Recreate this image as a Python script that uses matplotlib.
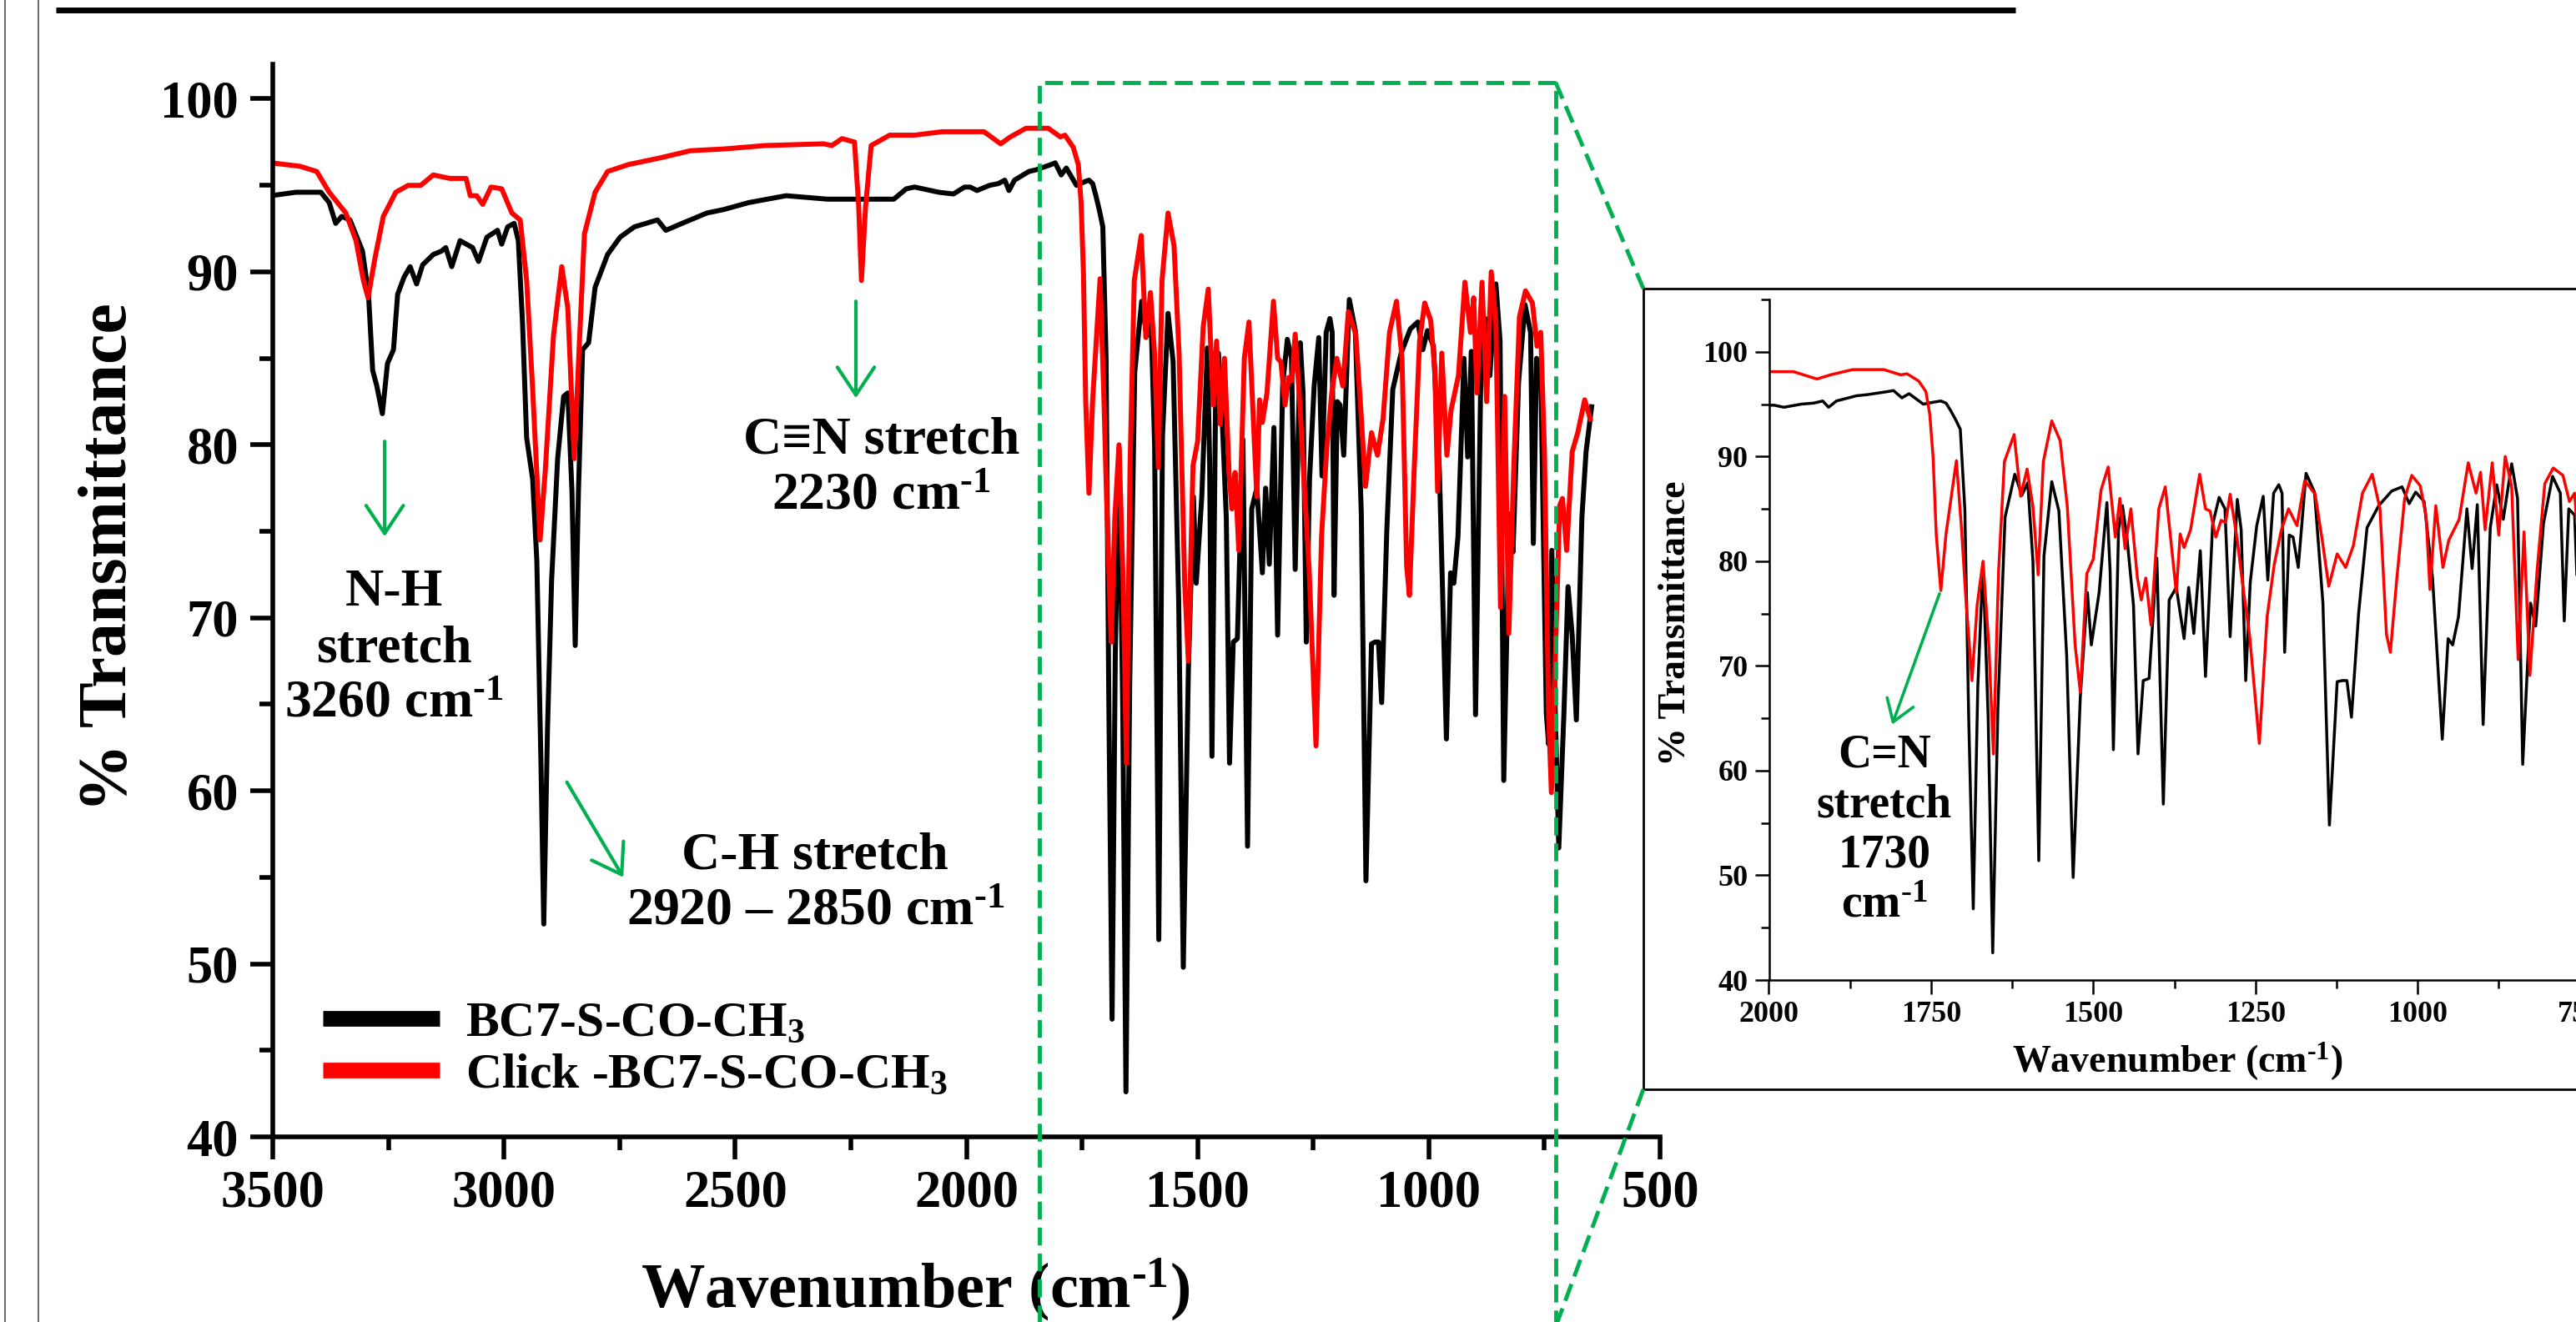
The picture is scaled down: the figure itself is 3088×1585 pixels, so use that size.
import matplotlib
matplotlib.use('Agg')
from matplotlib import pyplot as plt
from matplotlib.ticker import MultipleLocator
from matplotlib.lines import Line2D
from matplotlib.patches import Rectangle

# spectra (wavenumber in cm-1, % transmittance)
bc7_wn = [3504, 3450, 3396, 3378, 3364, 3351, 3333, 3306, 3293, 3284,
          3275, 3263, 3252, 3239, 3230, 3216, 3203, 3189, 3176, 3153,
          3135, 3126, 3113, 3095, 3068, 3055, 3037, 3014, 3005, 2992,
          2978, 2969, 2960, 2951, 2938, 2929, 2920, 2914, 2906, 2897,
          2884, 2871, 2862, 2853, 2846, 2839, 2830, 2817, 2803, 2776,
          2749, 2718, 2668, 2650, 2615, 2561, 2525, 2471, 2390, 2300,
          2237, 2157, 2130, 2112, 2060, 2028, 2004, 1992, 1977, 1950,
          1931, 1917, 1908, 1896, 1865, 1849, 1817, 1808, 1795, 1784,
          1762, 1745, 1735, 1727, 1720, 1712, 1705, 1698, 1692, 1685,
          1678, 1670, 1662, 1655, 1647, 1636, 1621, 1610, 1601, 1593,
          1584, 1576, 1564, 1553, 1541, 1531, 1520, 1509, 1503, 1491,
          1479, 1474, 1469, 1461, 1455, 1448, 1438, 1431, 1423, 1414,
          1402, 1392, 1383, 1372, 1360, 1353, 1345, 1335, 1327, 1316,
          1306, 1297, 1289, 1278, 1272, 1265, 1258, 1248, 1238, 1231,
          1222, 1214, 1209, 1205, 1198, 1192, 1184, 1172, 1159, 1146,
          1136, 1124, 1116, 1109, 1102, 1091, 1078, 1060, 1040, 1024,
          1013, 1003, 990, 977, 962, 953, 946, 937, 924, 916,
          908, 899, 888, 878, 868, 855, 846, 838, 826, 818,
          806, 792, 780, 774, 767, 758, 746, 741, 734, 727,
          719, 708, 699, 690, 681, 669, 660, 648]
bc7_t = [94.4, 94.6, 94.6, 94.0, 92.8, 93.2, 93.0, 91.2, 88.7, 84.3,
         83.4, 81.8, 84.7, 85.5, 88.7, 89.7, 90.3, 89.3, 90.4, 91.0,
         91.2, 91.4, 90.3, 91.8, 91.4, 90.6, 92.0, 92.4, 91.6, 92.6,
         92.8, 91.8, 87.1, 80.4, 78.0, 73.3, 61.5, 52.3, 63.5, 72.2,
         79.2, 82.8, 83.0, 77.3, 68.4, 77.3, 85.5, 85.9, 89.1, 91.0,
         92.0, 92.6, 93.0, 92.4, 92.8, 93.4, 93.6, 94.0, 94.4, 94.2,
         94.2, 94.2, 94.8, 94.9, 94.6, 94.5, 94.9, 94.9, 94.7, 95.0,
         95.1, 95.3, 94.7, 95.3, 95.8, 95.9, 96.2, 96.3, 95.6, 96.0,
         95.0, 95.2, 95.3, 95.1, 94.4, 93.5, 92.6, 85.0, 65.0, 46.8,
         68.0, 79.8, 65.0, 42.6, 66.0, 84.2, 88.3, 86.3, 87.5, 80.0,
         51.4, 80.5, 87.6, 84.8, 71.0, 49.8, 67.0, 77.0, 72.0, 77.0,
         85.6, 79.0, 62.0, 83.0, 85.3, 82.2, 75.8, 61.6, 68.6, 68.8,
         80.3, 56.8, 76.3, 77.5, 72.6, 77.5, 73.1, 81.0, 69.0, 83.5,
         86.1, 85.0, 72.8, 85.9, 83.0, 68.6, 78.0, 83.4, 86.2, 78.2,
         86.5, 87.3, 86.5, 71.3, 82.5, 82.3, 79.4, 88.4, 86.6, 76.0,
         54.8, 68.5, 68.6, 68.6, 65.1, 75.0, 83.2, 85.3, 86.7, 87.1,
         85.5, 86.6, 85.7, 78.4, 63.0, 72.6, 72.0, 74.7, 85.0, 79.3,
         85.4, 64.4, 83.2, 87.3, 84.0, 89.3, 86.0, 60.6, 76.0, 73.8,
         83.6, 88.1, 86.5, 74.3, 85.0, 84.4, 64.5, 62.7, 73.9, 65.0,
         56.7, 64.4, 71.8, 69.0, 64.1, 75.8, 79.6, 82.2]

click_wn = [3504, 3441, 3405, 3378, 3342, 3320, 3304, 3294, 3279, 3261,
            3234, 3207, 3180, 3153, 3117, 3082, 3073, 3059, 3046, 3028,
            3005, 2983, 2965, 2951, 2938, 2922, 2911, 2893, 2875, 2862,
            2848, 2837, 2826, 2803, 2776, 2731, 2660, 2597, 2525, 2435,
            2309, 2291, 2269, 2242, 2233, 2227, 2218, 2206, 2166, 2112,
            2052, 1992, 1962, 1926, 1905, 1871, 1823, 1797, 1787, 1769,
            1758, 1752, 1747, 1742, 1735, 1727, 1711, 1703, 1697, 1687,
            1679, 1670, 1661, 1654, 1646, 1637, 1622, 1612, 1602, 1593,
            1585, 1577, 1564, 1551, 1540, 1528, 1520, 1510, 1500, 1488,
            1477, 1466, 1459, 1451, 1442, 1432, 1426, 1419, 1411, 1399,
            1389, 1372, 1366, 1360, 1350, 1336, 1327, 1320, 1311, 1303,
            1296, 1289, 1278, 1270, 1259, 1244, 1232, 1221, 1210, 1199,
            1186, 1174, 1158, 1147, 1137, 1124, 1111, 1099, 1085, 1070,
            1058, 1048, 1042, 1032, 1020, 1009, 996, 987, 981, 972,
            961, 952, 936, 922, 910, 903, 896, 885, 875, 865,
            855, 845, 836, 827, 816, 804, 791, 776, 766, 758,
            750, 741, 735, 726, 717, 711, 702, 690, 678, 663,
            651]
click_t = [96.3, 96.1, 95.8, 94.6, 93.4, 91.8, 89.5, 88.5, 90.8, 93.2,
           94.6, 95.0, 95.0, 95.6, 95.4, 95.4, 94.4, 94.4, 93.9, 94.9,
           94.8, 93.4, 93.0, 89.5, 83.2, 74.5, 78.4, 86.3, 90.3, 87.9,
           79.2, 85.9, 92.2, 94.6, 95.8, 96.2, 96.6, 97.0, 97.1, 97.3,
           97.4, 97.3, 97.7, 97.5, 93.8, 89.5, 93.8, 97.3, 97.9, 97.9,
           98.1, 98.1, 98.1, 97.4, 97.8, 98.3, 98.3, 97.8, 97.9, 97.2,
           96.2, 94.0, 90.0, 82.5, 77.2, 82.6, 89.6, 83.0, 77.0, 68.6,
           75.8, 80.0, 72.0, 61.6, 79.0, 89.5, 92.1, 86.2, 88.8, 85.2,
           78.7, 89.5, 93.4, 91.5, 85.2, 72.0, 67.5, 78.8, 80.2, 86.8,
           89.0, 82.3, 86.0, 81.2, 85.0, 78.4, 76.3, 78.4, 73.9, 85.0,
           87.1, 77.0, 82.6, 81.3, 83.0, 88.3, 85.0, 84.8, 82.3, 83.9,
           83.7, 86.4, 82.0, 77.9, 72.9, 62.6, 74.7, 79.7, 83.0, 85.0,
           83.4, 87.7, 86.4, 82.0, 77.6, 80.7, 79.4, 81.5, 86.5, 88.3,
           85.0, 73.0, 71.3, 78.4, 86.0, 88.2, 87.2, 84.3, 77.3, 85.3,
           79.4, 82.0, 84.0, 89.4, 86.5, 88.5, 83.0, 89.4, 82.5, 90.0,
           87.1, 70.6, 82.8, 69.1, 79.0, 87.4, 88.9, 88.2, 85.7, 86.5,
           79.6, 64.4, 59.9, 68.2, 76.5, 76.9, 73.9, 79.6, 80.7, 82.6,
           81.5]

labels = ['BC7-S-CO-CH$_3$', 'Click -BC7-S-CO-CH$_3$']
x_ticks = [3500, 3000, 2500, 2000, 1500, 1000, 500]
inset_ticks = [2000, 1750, 1500, 1250, 1000, 750]

W, H = 3088, 1585
green = '#00b050'

plt.rcParams['font.family'] = ['Liberation Serif', 'DejaVu Serif']
plt.rcParams['font.weight'] = 'bold'
plt.rcParams['mathtext.fontset'] = 'custom'
plt.rcParams['mathtext.rm'] = 'Liberation Serif:bold'
plt.rcParams['mathtext.it'] = 'Liberation Serif:bold'
plt.rcParams['mathtext.bf'] = 'Liberation Serif:bold'


def box(x0, y0, x1, y1):
    # pixel box (top-left origin) -> figure fraction rect
    return [x0 / W, 1 - y1 / H, (x1 - x0) / W, (y1 - y0) / H]


fig = plt.figure(figsize=(W / 100, H / 100), dpi=100)

# ---- main axes ----
ax = fig.add_axes(box(327, 77, 1990, 1363))
ax.plot(bc7_wn, bc7_t, color='black', lw=4.3, solid_joinstyle='round', label=labels[0])
ax.plot(click_wn, click_t, color='red', lw=4.3, solid_joinstyle='round', label=labels[1])
ax.set_xlim(3500, 500)
ax.set_ylim(40, 102)
ax.set_xticks(x_ticks)
ax.xaxis.set_minor_locator(MultipleLocator(250))
ax.set_yticks(range(40, 101, 10))
ax.yaxis.set_minor_locator(MultipleLocator(5))
for s in ['top', 'right']:
    ax.spines[s].set_visible(False)
for s in ['left', 'bottom']:
    ax.spines[s].set_linewidth(4)
ax.tick_params(which='major', length=19.5, width=4, labelsize=45)
ax.tick_params(which='minor', length=11.5, width=4)
ax.tick_params(axis='x', which='major', pad=9)
ax.tick_params(axis='y', which='major', pad=10)
ax.set_xlabel('Wavenumber (cm$^{\\text{-1}}$)', fontsize=55, fontweight='bold')
ax.xaxis.set_label_coords(0.463, -0.112)
ax.set_ylabel('% Transmittance', fontsize=59, fontweight='bold')
ax.yaxis.set_label_coords(-0.095, 0.54)

leg = ax.legend(loc='center left', bbox_to_anchor=(0.036, 0.081), frameon=False,
                handlelength=2.34, handletextpad=0.52, labelspacing=0.12,
                borderpad=0, borderaxespad=0, prop={'size': 43, 'weight': 'bold'})
for h in leg.get_lines():
    h.set_linewidth(13.5)
    h.set_solid_capstyle('butt')

# band annotations
ax.text(3238, 68.2, 'N-H\nstretch\n3260 cm$^{\\text{-1}}$', ha='center', va='center',
        fontsize=46, linespacing=1.2)
ax.text(2184, 78.6, 'C\u2261N stretch\n2230 cm$^{\\text{-1}}$', ha='center', va='center',
        fontsize=46, linespacing=1.2)
ax.text(2327, 54.6, 'C-H stretch\n2920 \u2013 2850 cm$^{\\text{-1}}$', ha='center', va='center',
        fontsize=46, linespacing=1.2)
arrow = dict(arrowstyle='->,head_length=0.6,head_width=0.4', color=green, lw=3,
             mutation_scale=40, shrinkA=0, shrinkB=0)
ax.annotate('', xy=(3258, 74.7), xytext=(3258, 80.2), arrowprops=arrow)
ax.annotate('', xy=(2239, 82.7), xytext=(2239, 88.3), arrowprops=arrow)
ax.annotate('', xy=(2742, 55.0), xytext=(2864, 60.5), arrowprops=arrow)

# zoom region marker (dashed green)
zl, zr, zt, zb = 1843, 726, 100.96, 29.0
dash_lw, dash_pat = 3.5, (4.4, 2.0)
ax.plot([zl, zl, zr, zr], [zb, zt, zt, zb], color=green, lw=dash_lw, dashes=dash_pat,
        clip_on=False, zorder=6)

# ---- inset ----
frame = Rectangle((1970 / W, 1 - 1306 / H), (3300 - 1970) / W, (1306 - 346) / H,
                  transform=fig.transFigure, fill=False, edgecolor='black', lw=2, zorder=1)
fig.add_artist(frame)

to_fig = fig.transFigure.inverted()
p_top = to_fig.transform(ax.transData.transform((zr, zt)))
p_bot = to_fig.transform(ax.transData.transform((zr, zb)))
fig.add_artist(Line2D([p_top[0], 1970 / W], [p_top[1], 1 - 346 / H],
                      transform=fig.transFigure, color=green, lw=dash_lw, dashes=dash_pat))
fig.add_artist(Line2D([1970 / W, p_bot[0]], [1 - 1306 / H, p_bot[1]],
                      transform=fig.transFigure, color=green, lw=dash_lw, dashes=dash_pat))

ins = fig.add_axes(box(2120.5, 359, 3147, 1175))
ins.plot(bc7_wn, bc7_t, color='black', lw=2.5, solid_joinstyle='round')
ins.plot(click_wn, click_t, color='red', lw=2.5, solid_joinstyle='round')
ins.set_xlim(2000, 680)
ins.set_ylim(40, 105)
ins.set_xticks(inset_ticks)
ins.xaxis.set_minor_locator(MultipleLocator(125))
ins.set_yticks(range(40, 101, 10))
ins.yaxis.set_minor_locator(MultipleLocator(5))
for s in ['top', 'right']:
    ins.spines[s].set_visible(False)
for s in ['left', 'bottom']:
    ins.spines[s].set_linewidth(1.8)
ins.tick_params(which='major', length=12, width=1.8, labelsize=26, pad=6)
ins.tick_params(which='minor', length=7, width=1.8)
ins.set_xlabel('Wavenumber (cm$^{\\text{-1}}$)', fontsize=33, fontweight='bold')
ins.xaxis.set_label_coords(0.477, -0.089)
ins.set_ylabel('% Transmittance', fontsize=33, fontweight='bold')
ins.yaxis.set_label_coords(-0.088, 0.524)
ins.text(1822, 54.3, 'C=N\nstretch\n1730\ncm$^{\\text{-1}}$', ha='center', va='center',
         fontsize=40, linespacing=1.2)
ins.annotate('', xy=(1810, 64.4), xytext=(1737, 76.9),
             arrowprops=dict(arrowstyle='->,head_length=0.6,head_width=0.4', color=green,
                             lw=2.6, mutation_scale=30, shrinkA=0, shrinkB=0))

# page decorations: rule at top and thin border lines on the left
fig.add_artist(Line2D([67 / W, 2416 / W], [1 - 11.5 / H, 1 - 11.5 / H], transform=fig.transFigure,
                      color='black', lw=5, solid_capstyle='butt'))
for xp in (5.6, 46.3):
    fig.add_artist(Line2D([xp / W, xp / W], [0, 1], transform=fig.transFigure,
                          color='#404040', lw=1.1))

plt.savefig('out.png', dpi=100)
